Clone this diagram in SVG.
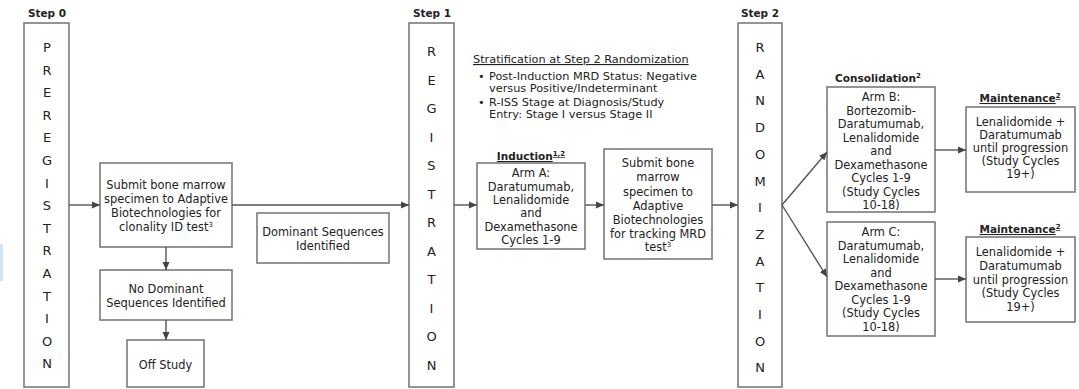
<svg xmlns="http://www.w3.org/2000/svg" width="1079" height="389" viewBox="0 0 1079 389">
<defs>
<marker id="arr" viewBox="0 0 8 8" refX="8" refY="4" markerWidth="8" markerHeight="8" markerUnits="userSpaceOnUse" orient="auto">
<path d="M0,0.5 L8,4 L0,7.5 Z" fill="#444"/>
</marker>
<style>
.box{fill:#fff;stroke:#7a7a7a;stroke-width:1.6}
.t{font-family:"DejaVu Sans",sans-serif;font-size:11.4px;fill:#222;text-anchor:middle}
.l{font-family:"DejaVu Sans",sans-serif;font-size:11.3px;fill:#222}
.v{font-family:"DejaVu Sans",sans-serif;font-size:13px;fill:#222;text-anchor:middle}
.h{font-family:"DejaVu Sans",sans-serif;font-size:10.5px;font-weight:bold;fill:#222;text-anchor:middle}
.u{text-decoration:underline}
.sup{font-size:7px}
.c{stroke:#555;stroke-width:1.4;fill:none;marker-end:url(#arr)}
</style>
</defs>
<rect width="1079" height="389" fill="#fff"/>
<rect x="0" y="244" width="3" height="37" fill="#cfe5f6"/>

<g id="step0">
<text class="h" x="47" y="17">Step 0</text>
<rect class="box" x="24" y="23" width="45" height="364"/>
<text class="v" x="47">
<tspan x="47" y="52">P</tspan><tspan x="47" y="74.6">R</tspan><tspan x="47" y="97.2">E</tspan><tspan x="47" y="119.8">R</tspan><tspan x="47" y="142.4">E</tspan><tspan x="47" y="165">G</tspan><tspan x="47" y="187.6">I</tspan><tspan x="47" y="210.2">S</tspan><tspan x="47" y="232.8">T</tspan><tspan x="47" y="255.4">R</tspan><tspan x="47" y="278">A</tspan><tspan x="47" y="300.6">T</tspan><tspan x="47" y="323.2">I</tspan><tspan x="47" y="345.8">O</tspan><tspan x="47" y="368.4">N</tspan>
</text>
</g>

<g id="submit1">
<rect class="box" x="100" y="163" width="132" height="84"/>
<text class="t"><tspan x="166" y="189">Submit bone marrow</tspan><tspan x="166" y="203">specimen to Adaptive</tspan><tspan x="166" y="217">Biotechnologies for</tspan><tspan x="166" y="231">clonality ID test<tspan class="sup" dy="-4">3</tspan></tspan></text>
</g>

<g id="dominant">
<rect class="box" x="257" y="213" width="132" height="50"/>
<text class="t"><tspan x="323" y="236">Dominant Sequences</tspan><tspan x="323" y="250">Identified</tspan></text>
</g>

<g id="nodominant">
<rect class="box" x="100" y="270" width="132" height="50"/>
<text class="t"><tspan x="166" y="293">No Dominant</tspan><tspan x="166" y="307">Sequences Identified</tspan></text>
</g>

<g id="offstudy">
<rect class="box" x="127" y="340" width="77" height="47"/>
<text class="t" x="165.5" y="369">Off Study</text>
</g>

<g id="step1">
<text class="h" x="432" y="17">Step 1</text>
<rect class="box" x="409" y="23" width="45" height="364"/>
<text class="v">
<tspan x="431.5" y="56">R</tspan><tspan x="431.5" y="84.5">E</tspan><tspan x="431.5" y="113">G</tspan><tspan x="431.5" y="141.5">I</tspan><tspan x="431.5" y="170">S</tspan><tspan x="431.5" y="198.5">T</tspan><tspan x="431.5" y="227">R</tspan><tspan x="431.5" y="255.5">A</tspan><tspan x="431.5" y="284">T</tspan><tspan x="431.5" y="312.5">I</tspan><tspan x="431.5" y="341">O</tspan><tspan x="431.5" y="369.5">N</tspan>
</text>
</g>

<g id="stratification">
<text class="l u" x="473" y="63" font-size="11px">Stratification at Step 2 Randomization</text>
<text class="l" x="478" y="80">•</text>
<text class="l"><tspan x="489" y="80">Post-Induction MRD Status: Negative</tspan><tspan x="489" y="92">versus Positive/Indeterminant</tspan></text>
<text class="l" x="478" y="106">•</text>
<text class="l"><tspan x="489" y="106">R-ISS Stage at Diagnosis/Study</tspan><tspan x="489" y="118">Entry: Stage I versus Stage II</tspan></text>
</g>

<g id="armA">
<text class="h u" x="531" y="160">Induction<tspan class="sup" dy="-4">1,2</tspan></text>
<rect class="box" x="477" y="163" width="108" height="86"/>
<text class="t"><tspan x="531" y="177">Arm A:</tspan><tspan x="531" y="191">Daratumumab,</tspan><tspan x="531" y="204">Lenalidomide</tspan><tspan x="531" y="217">and</tspan><tspan x="531" y="231">Dexamethasone</tspan><tspan x="531" y="244">Cycles 1-9</tspan></text>
</g>

<g id="submit2">
<rect class="box" x="604" y="149" width="108" height="110"/>
<text class="t"><tspan x="658" y="167">Submit bone</tspan><tspan x="658" y="181">marrow</tspan><tspan x="658" y="196">specimen to</tspan><tspan x="658" y="210">Adaptive</tspan><tspan x="658" y="224">Biotechnologies</tspan><tspan x="658" y="238">for tracking MRD</tspan><tspan x="658" y="251">test<tspan class="sup" dy="-4">3</tspan></tspan></text>
</g>

<g id="step2">
<text class="h" x="760" y="17">Step 2</text>
<rect class="box" x="738" y="23" width="44" height="364"/>
<text class="v">
<tspan x="760" y="52">R</tspan><tspan x="760" y="78.7">A</tspan><tspan x="760" y="105.4">N</tspan><tspan x="760" y="132.1">D</tspan><tspan x="760" y="158.8">O</tspan><tspan x="760" y="185.5">M</tspan><tspan x="760" y="212.2">I</tspan><tspan x="760" y="238.9">Z</tspan><tspan x="760" y="265.6">A</tspan><tspan x="760" y="292.3">T</tspan><tspan x="760" y="319">I</tspan><tspan x="760" y="345.7">O</tspan><tspan x="760" y="372.4">N</tspan>
</text>
</g>

<g id="armB">
<text class="h" x="878" y="82">Consolidation<tspan class="sup" dy="-4">2</tspan></text>
<rect class="box" x="827" y="87" width="108" height="125"/>
<text class="t"><tspan x="881" y="101">Arm B:</tspan><tspan x="881" y="114.5">Bortezomib-</tspan><tspan x="881" y="128">Daratumumab,</tspan><tspan x="881" y="141.5">Lenalidomide</tspan><tspan x="881" y="155">and</tspan><tspan x="881" y="168.5">Dexamethasone</tspan><tspan x="881" y="182">Cycles 1-9</tspan><tspan x="881" y="195.5">(Study Cycles</tspan><tspan x="881" y="209">10-18)</tspan></text>
</g>

<g id="armC">
<rect class="box" x="827" y="222" width="108" height="114"/>
<text class="t"><tspan x="881" y="236">Arm C:</tspan><tspan x="881" y="249.5">Daratumumab,</tspan><tspan x="881" y="263">Lenalidomide</tspan><tspan x="881" y="276.5">and</tspan><tspan x="881" y="290">Dexamethasone</tspan><tspan x="881" y="303.5">Cycles 1-9</tspan><tspan x="881" y="317">(Study Cycles</tspan><tspan x="881" y="330.5">10-18)</tspan></text>
</g>

<g id="maint1">
<text class="h u" x="1020" y="102">Maintenance<tspan class="sup" dy="-4">2</tspan></text>
<rect class="box" x="966" y="107" width="109" height="85"/>
<text class="t"><tspan x="1020.5" y="126">Lenalidomide +</tspan><tspan x="1020.5" y="139">Daratumumab</tspan><tspan x="1020.5" y="152">until progression</tspan><tspan x="1020.5" y="165">(Study Cycles</tspan><tspan x="1020.5" y="178">19+)</tspan></text>
</g>

<g id="maint2">
<text class="h u" x="1020" y="233">Maintenance<tspan class="sup" dy="-4">2</tspan></text>
<rect class="box" x="966" y="237" width="109" height="85"/>
<text class="t"><tspan x="1020.5" y="256">Lenalidomide +</tspan><tspan x="1020.5" y="270">Daratumumab</tspan><tspan x="1020.5" y="284">until progression</tspan><tspan x="1020.5" y="297">(Study Cycles</tspan><tspan x="1020.5" y="311">19+)</tspan></text>
</g>

<g id="connectors">
<line class="c" x1="69" y1="205" x2="100" y2="205"/>
<line class="c" x1="232" y1="205" x2="409" y2="205"/>
<line class="c" x1="166" y1="247" x2="166" y2="270"/>
<line class="c" x1="166" y1="320" x2="166" y2="340"/>
<line class="c" x1="454" y1="205" x2="477" y2="205"/>
<line class="c" x1="585" y1="205" x2="604" y2="205"/>
<line class="c" x1="712" y1="205" x2="738" y2="205"/>
<line class="c" x1="782" y1="205" x2="827" y2="152"/>
<line class="c" x1="782" y1="205" x2="827" y2="277"/>
<line class="c" x1="935" y1="150" x2="966" y2="150"/>
<line class="c" x1="935" y1="279" x2="966" y2="279"/>
</g>
</svg>
